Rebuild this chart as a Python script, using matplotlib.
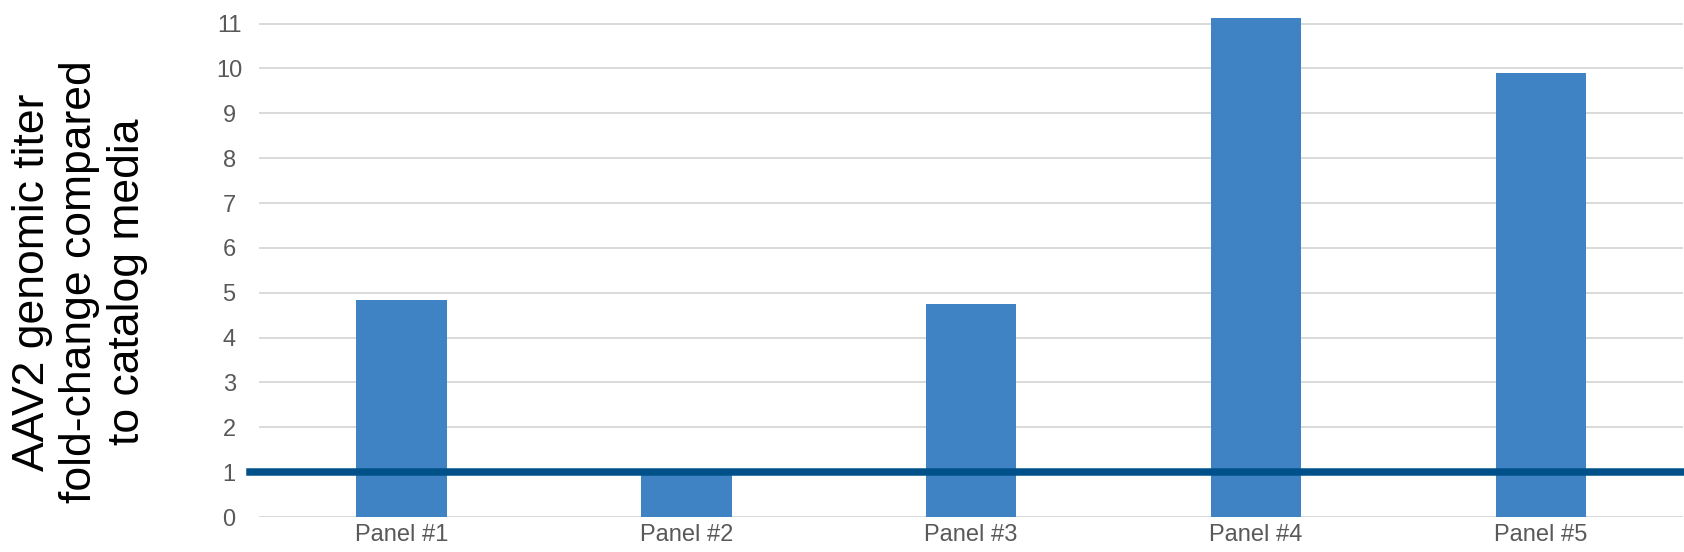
import matplotlib
matplotlib.use("Agg")
import matplotlib.pyplot as plt

# valeurs
panels = ["Panel #1", "Panel #2", "Panel #3", "Panel #4", "Panel #5"]
fold_change = [4.83, 0.98, 4.75, 11.12, 9.9]
baseline = 1
yticks = list(range(0, 12))

plt.rcParams['font.family'] = ['Liberation Sans', 'DejaVu Sans']

fig = plt.figure(figsize=(16.84, 5.52), dpi=100)
ax = fig.add_axes([0.1539, 0.0634, 0.8456, 0.9344])

x = range(len(panels))
ax.bar(x, fold_change, width=0.317, color="#3f83c4", zorder=2, clip_on=False)
ax.axhline(baseline, xmin=-0.0065, xmax=1.0, color="#005189", linewidth=5.4,
           zorder=3, clip_on=False)

ax.set_xlim(-0.5, len(panels) - 0.5)
ax.set_ylim(0, 11.5)
ax.set_yticks(yticks)
ax.set_xticks(list(x))
ax.set_xticklabels(panels)
ax.yaxis.grid(True, color="#d9d9d9", linewidth=1.4, zorder=0)
ax.set_axisbelow(True)
for s in ax.spines.values():
    s.set_visible(False)
ax.tick_params(axis="both", length=0, labelsize=17, labelcolor="#595959")
ax.tick_params(axis="y", pad=21.6)
ax.tick_params(axis="x", pad=5)
for lbl in ax.get_yticklabels():
    lbl.set_horizontalalignment("center")

fig.text(0.0473, 0.489, "AAV2 genomic titer\nfold-change compared\nto catalog media",
         rotation=90, ha="center", va="center", multialignment="center",
         fontsize=32, color="black", linespacing=1.2)

fig.savefig("out.png", dpi=100)
